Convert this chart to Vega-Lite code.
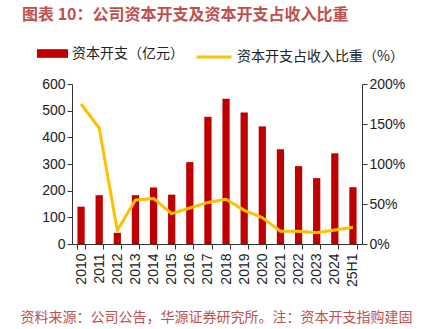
{
  "$schema": "https://vega.github.io/schema/vega-lite/v6.json",
  "width": 425,
  "height": 329,
  "autosize": {"type": "fit", "contains": "padding"},
  "padding": {"left": 20, "right": 20, "top": 7, "bottom": 4},
  "background": "white",
  "title": {
    "text": "图表 10：公司资本开支及资本开支占收入比重",
    "anchor": "start",
    "frame": "bounds",
    "dx": 2,
    "font": "Noto Sans CJK SC",
    "fontSize": 16,
    "fontWeight": "bold",
    "color": "#c0504d",
    "offset": 54
  },
  "data": {
    "values": [
      {"year": "2010", "capex": 140, "ratio": 1.75},
      {"year": "2011", "capex": 183, "ratio": 1.45},
      {"year": "2012", "capex": 42, "ratio": 0.17},
      {"year": "2013", "capex": 183, "ratio": 0.55},
      {"year": "2014", "capex": 212, "ratio": 0.57},
      {"year": "2015", "capex": 185, "ratio": 0.38},
      {"year": "2016", "capex": 307, "ratio": 0.45},
      {"year": "2017", "capex": 477, "ratio": 0.52},
      {"year": "2018", "capex": 545, "ratio": 0.56},
      {"year": "2019", "capex": 493, "ratio": 0.42},
      {"year": "2020", "capex": 441, "ratio": 0.33},
      {"year": "2021", "capex": 355, "ratio": 0.16},
      {"year": "2022", "capex": 292, "ratio": 0.16},
      {"year": "2023", "capex": 247, "ratio": 0.14},
      {"year": "2024", "capex": 340, "ratio": 0.175},
      {"year": "25H1", "capex": 213, "ratio": 0.21}
    ]
  },
  "encoding": {
    "x": {
      "field": "year",
      "type": "ordinal",
      "sort": null,
      "scale": {"paddingInner": 0.6, "paddingOuter": 0.3},
      "axis": {
        "title": "资料来源：公司公告，华源证券研究所。注：资本开支指购建固",
        "titleFont": "Noto Sans CJK SC",
        "titleFontSize": 14,
        "titleFontWeight": "normal",
        "titleColor": "#c0504d",
        "titlePadding": 24,
        "titleAnchor": "start",
        "titleX": -52,
        "titleLimit": 420,
        "labelAngle": -90,
        "labelFont": "Liberation Sans",
        "labelFontSize": 14,
        "labelColor": "#222",
        "labelPadding": 4,
        "domainColor": "#333",
        "tickColor": "#333",
        "tickBand": "extent",
        "tickSize": 5
      }
    }
  },
  "layer": [
    {
      "mark": {"type": "bar"},
      "encoding": {
        "y": {
          "field": "capex",
          "type": "quantitative",
          "scale": {"domain": [0, 600]},
          "axis": {
            "title": null,
            "values": [0, 100, 200, 300, 400, 500, 600],
            "grid": false,
            "minExtent": 52,
            "labelFont": "Liberation Sans",
            "labelFontSize": 14,
            "labelColor": "#222",
            "domainColor": "#333",
            "tickColor": "#333",
            "tickSize": 5
          }
        },
        "fill": {
          "datum": "资本开支（亿元）",
          "scale": {"range": ["#c00000"]},
          "legend": {
            "title": null,
            "orient": "none",
            "legendX": -35,
            "legendY": -46,
            "symbolType": "M-1,-0.28H1V0.28H-1Z",
            "symbolSize": 961,
            "symbolStrokeWidth": 0,
            "labelLimit": 250,
            "labelFont": "Noto Sans CJK SC",
            "labelFontSize": 14,
            "labelColor": "#222"
          }
        }
      }
    },
    {
      "mark": {"type": "line", "strokeWidth": 3, "strokeJoin": "round"},
      "encoding": {
        "y": {
          "field": "ratio",
          "type": "quantitative",
          "scale": {"domain": [0, 2]},
          "axis": {
            "title": null,
            "orient": "right",
            "format": ".0%",
            "values": [0, 0.5, 1, 1.5, 2],
            "grid": false,
            "labelFont": "Liberation Sans",
            "labelFontSize": 14,
            "labelColor": "#222",
            "domainColor": "#333",
            "tickColor": "#333",
            "tickSize": 5
          }
        },
        "stroke": {
          "datum": "资本开支占收入比重（%）",
          "scale": {"range": ["#ffc000"]},
          "legend": {
            "title": null,
            "orient": "none",
            "legendX": 123,
            "legendY": -46,
            "symbolType": "stroke",
            "symbolSize": 1225,
            "symbolStrokeWidth": 3,
            "labelLimit": 250,
            "labelFont": "Noto Sans CJK SC",
            "labelFontSize": 14,
            "labelColor": "#222"
          }
        }
      }
    }
  ],
  "resolve": {"scale": {"y": "independent"}},
  "config": {
    "view": {"stroke": null},
    "axis": {"domainWidth": 1, "tickWidth": 1}
  }
}
